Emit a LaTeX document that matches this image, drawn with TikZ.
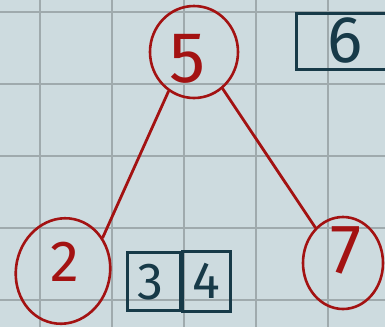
\documentclass[tikz,border=0pt]{standalone}
\usepackage{fontspec}
\setmainfont{Fira Sans}
\usetikzlibrary{shapes.geometric}
\definecolor{bgc}{HTML}{CDDBDF}
\definecolor{gridc}{HTML}{9FAAAD}
\definecolor{inkred}{HTML}{A31212}
\definecolor{inkteal}{HTML}{173A48}
\tikzset{
  treenode/.style={draw=inkred, line width=2.6pt, ellipse, inner sep=0pt},
  digitred/.style={text=inkred, inner sep=0pt},
  digitteal/.style={text=inkteal, inner sep=0pt},
  slot/.style={draw=inkteal, line width=3pt, rectangle, inner sep=0pt},
  edge/.style={draw=inkred, line width=2.8pt, line cap=round}
}
\begin{document}
\begin{tikzpicture}[x=1pt,y=-1pt]
\useasboundingbox (0,0) rectangle (385,327);
\clip (0,0) rectangle (385,327);
\fill[bgc] (0,0) rectangle (385,327);
\foreach \g in {40,112,184,256,328} \draw[gridc, line width=2pt] (\g,0) -- (\g,327);
\foreach \g in {12,84,156,228,300} \draw[gridc, line width=2pt] (0,\g) -- (385,\g);

% tree nodes
\node[treenode, minimum width=88pt, minimum height=92pt] (n5) at (194,52) {};
\node[treenode, minimum width=94pt, minimum height=106pt, rotate=-12] (n2) at (63,271) {};
\node[treenode, minimum width=80pt, minimum height=92pt] (n7) at (343,263) {};

\node[digitred, font=\fontsize{72}{72}\selectfont] (t5) at (188,59) {5};
\node[digitred, font=\fontsize{58}{58}\selectfont] (t2) at (65,262) {2};
\node[digitred, font=\fontsize{70}{70}\selectfont] (t7) at (346,250) {7};

% edges
\draw[edge] (n5.237) -- (n2.52);
\draw[edge] (n5.308) -- (n7.128);

% boxes
\node[slot, minimum width=112pt, minimum height=56pt] (b6) at (352,41) {};
\node[digitteal, font=\fontsize{66}{66}\selectfont] (t6) at (345,40) {6};

\node[slot, minimum width=53pt, minimum height=58pt] (b3) at (154,281) {};
\node[slot, minimum width=48pt, minimum height=60pt, anchor=west] (b4) at ([xshift=-1.5pt]b3.east) {};
\node[digitteal, font=\fontsize{52}{52}\selectfont] (t3) at (150,282) {3};
\node[digitteal, font=\fontsize{52}{52}\selectfont] (t4) at (206,281) {4};
\end{tikzpicture}
\end{document}
